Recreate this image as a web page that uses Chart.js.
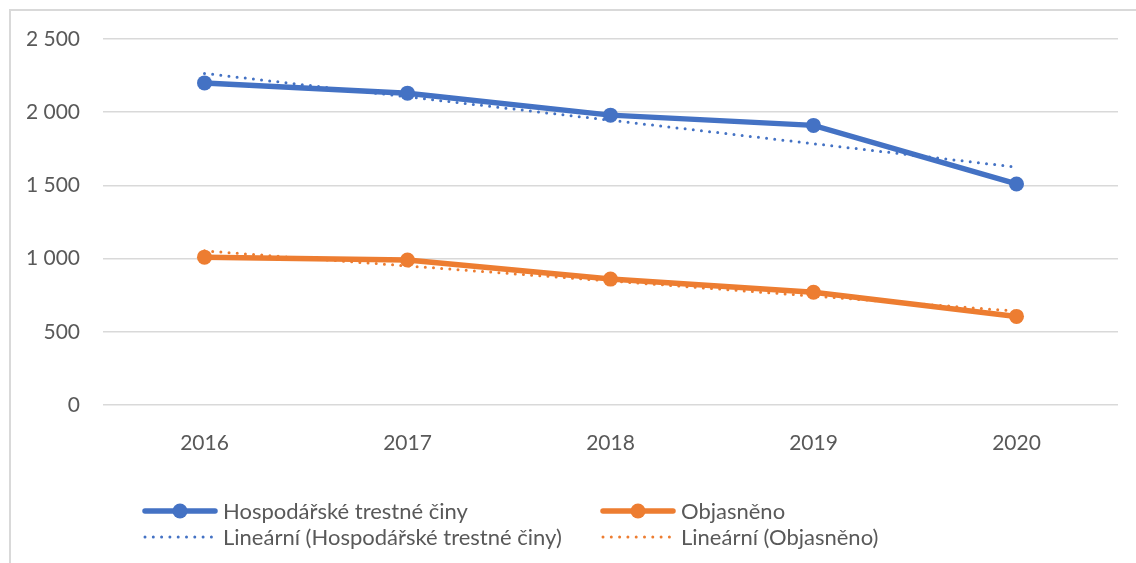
<!DOCTYPE html>
<html>
<head>
<meta charset="utf-8">
<script src="https://cdn.jsdelivr.net/npm/chart.js@4/dist/chart.umd.min.js"></script>
<style>
  html, body { margin: 0; padding: 0; background: #fff; }
  #wrap { position: relative; width: 1136px; height: 563px; overflow: hidden; font-family: Lato, "Noto Sans", sans-serif; }
  #frame { position: absolute; left: 9px; top: 9px; width: 1140px; height: 600px; border-left: 2px solid #d9d9d9; border-top: 2px solid #d9d9d9; box-sizing: border-box; }
  canvas { position: absolute; left: 0; top: 0; }
  .leg { position: absolute; font-size: 22px; color: #595959; line-height: 26px; white-space: nowrap; }
  .leg svg { position: absolute; }
</style>
</head>
<body>
<div id="wrap">
  <div id="frame"></div>
  <canvas id="c" width="1136" height="563"></canvas>
  <div id="legend"></div>
</div>
<script>
const categories = ['2016', '2017', '2018', '2019', '2020'];
const hospodarske = [2200, 2130, 1980, 1910, 1510];
const objasneno = [1010, 990, 860, 770, 605];
const trendHospodarske = [2265, 2105, 1945, 1785, 1625];
const trendObjasneno = [1053, 950, 847, 744, 641];
const yTicks = [0, 500, 1000, 1500, 2000, 2500];

const BLUE = '#4472C4';
const ORANGE = '#ED7D31';
const labels = ['Hospodářské trestné činy', 'Objasněno', 'Lineární (Hospodářské trestné činy)', 'Lineární (Objasněno)'];

function fmt(v) { return String(v).replace(/\B(?=(\d{3})+(?!\d))/g, ' '); }

new Chart(document.getElementById('c'), {
  type: 'line',
  data: {
    labels: categories,
    datasets: [
      { label: labels[0], data: hospodarske, borderColor: BLUE, backgroundColor: BLUE, borderWidth: 5.5, pointRadius: 7.5, pointHoverRadius: 7.5, pointBorderWidth: 0, order: 2, tension: 0 },
      { label: labels[1], data: objasneno, borderColor: ORANGE, backgroundColor: ORANGE, borderWidth: 5.5, pointRadius: 7.5, pointHoverRadius: 7.5, pointBorderWidth: 0, order: 2, tension: 0 },
      { label: labels[2], data: trendHospodarske, borderColor: BLUE, borderWidth: 3, borderDash: [0, 8.2], borderCapStyle: 'round', pointRadius: 0, order: 1, tension: 0 },
      { label: labels[3], data: trendObjasneno, borderColor: ORANGE, borderWidth: 3, borderDash: [0, 8.2], borderCapStyle: 'round', pointRadius: 0, order: 1, tension: 0 }
    ]
  },
  options: {
    responsive: false,
    animation: false,
    events: [],
    layout: { padding: { left: 0, right: 18, top: 39, bottom: 98 } },
    plugins: { legend: { display: false }, tooltip: { enabled: false } },
    scales: {
      x: {
        offset: true,
        grid: { display: false },
        border: { display: false },
        ticks: { color: '#595959', font: { family: 'Lato', size: 21 }, padding: 18, maxRotation: 0 },
        afterFit: s => { s.height = 60; }
      },
      y: {
        min: 0, max: 2500,
        afterBuildTicks: s => { s.ticks = yTicks.map(v => ({ value: v })); },
        grid: { color: '#d9d9d9', lineWidth: 1.5, drawTicks: false },
        border: { display: false },
        ticks: { color: '#595959', font: { family: 'Lato', size: 21 }, padding: 23, callback: v => fmt(v) },
        afterFit: s => { s.width = 103; }
      }
    }
  }
});

// HTML legend
const legendItems = [
  { text: labels[0], color: BLUE, dotted: false, x: 145, y: 511, w: 70, tx: 223 },
  { text: labels[1], color: ORANGE, dotted: false, x: 603, y: 511, w: 70, tx: 681 },
  { text: labels[2], color: BLUE, dotted: true, x: 145, y: 537, w: 70, tx: 223 },
  { text: labels[3], color: ORANGE, dotted: true, x: 603, y: 537, w: 70, tx: 681 }
];
const lg = document.getElementById('legend');
legendItems.forEach(it => {
  const ns = 'http://www.w3.org/2000/svg';
  const svg = document.createElementNS(ns, 'svg');
  svg.setAttribute('width', it.w + 12);
  svg.setAttribute('height', 20);
  svg.style.position = 'absolute';
  svg.style.left = (it.x - 6) + 'px';
  svg.style.top = (it.y - 10) + 'px';
  const line = document.createElementNS(ns, 'line');
  line.setAttribute('x1', 6); line.setAttribute('x2', 6 + it.w);
  line.setAttribute('y1', 10); line.setAttribute('y2', 10);
  line.setAttribute('stroke', it.color);
  line.setAttribute('stroke-linecap', 'round');
  if (it.dotted) {
    line.setAttribute('stroke-width', 3);
    line.setAttribute('stroke-dasharray', '0 8.3');
  } else {
    line.setAttribute('stroke-width', 5.5);
  }
  svg.appendChild(line);
  if (!it.dotted) {
    const c = document.createElementNS(ns, 'circle');
    c.setAttribute('cx', 6 + it.w / 2); c.setAttribute('cy', 10); c.setAttribute('r', 7.5);
    c.setAttribute('fill', it.color);
    svg.appendChild(c);
  }
  lg.appendChild(svg);
  const d = document.createElement('div');
  d.className = 'leg';
  d.textContent = it.text;
  d.style.left = it.tx + 'px';
  d.style.top = (it.y - 13) + 'px';
  lg.appendChild(d);
});
</script>
</body>
</html>
